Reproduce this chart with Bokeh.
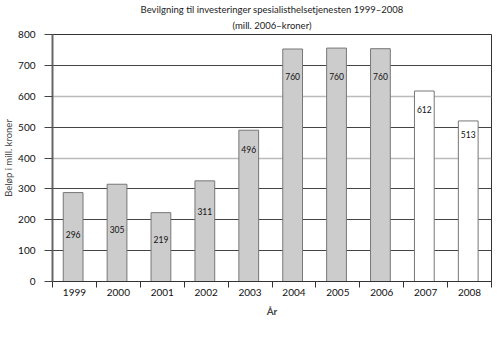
from bokeh.plotting import figure
from bokeh.models import FixedTicker, Range1d, Title, Grid, ColumnDataSource
from bokeh.core.properties import value
from bokeh.embed import file_html
from bokeh.resources import INLINE

years = ["1999", "2000", "2001", "2002", "2003", "2004", "2005", "2006", "2007", "2008"]
bar_heights = [288, 315, 223, 326, 490, 753, 756, 754, 617, 520]
label_text = ["296", "305", "219", "311", "496", "760", "760", "760", "612", "513"]
label_y = [152, 169, 136, 226, 427, 664, 664, 664, 557, 476]
fills = ["#cccccc"] * 8 + ["#ffffff"] * 2
y_ticks = [0, 100, 200, 300, 400, 500, 600, 700, 800]
title_main = "Bevilgning til investeringer spesialisthelsetjenesten 1999\u20132008"
title_sub = "(mill. 2006\u2013kroner)"

FONT = "Lato"

xs = [i + 0.47 for i in range(len(years))]
src = ColumnDataSource(dict(x=xs, top=bar_heights, fill=fills, lab=label_text, ly=label_y))

p = figure(width=492, height=351, output_backend="svg", toolbar_location=None,
           x_range=Range1d(0, len(years)), y_range=Range1d(0, 800),
           min_border_left=44, min_border_right=1, min_border_top=34, min_border_bottom=70)

p.add_layout(Title(text=title_sub, align="center", text_font=FONT,
                   text_font_size="9.5px", text_font_style="normal", text_color="#222",
                   text_line_height=0.9, standoff=7), "above")
p.add_layout(Title(text=title_main, align="center", text_font=FONT,
                   text_font_size="9.5px", text_font_style="normal", text_color="#222",
                   text_line_height=0.9, standoff=0), "above")

p.outline_line_color = "#333333"
p.outline_line_width = 1
p.background_fill_color = "white"

# grids
p.xgrid.visible = False
p.ygrid.ticker = FixedTicker(ticks=[100, 200, 300, 500, 700])
p.ygrid.grid_line_color = "#444444"
p.ygrid.grid_line_width = 1
g2 = Grid(dimension=1, ticker=FixedTicker(ticks=[400, 600]), grid_line_color="#bbbbbb", grid_line_width=1.5)
p.add_layout(g2)

p.vbar(x="x", top="top", width=0.45, bottom=0, fill_color="fill", line_color="#777777",
       line_width=1, source=src)
p.text(x="x", y="ly", text="lab", source=src, text_align="center", text_baseline="middle",
       text_font=value(FONT), text_font_size="8.5px", text_color="#111111")

# x axis
centers = [i + 0.5 for i in range(len(years))]
p.xaxis.ticker = FixedTicker(ticks=centers, minor_ticks=list(range(len(years) + 1)))
p.xaxis.major_label_overrides = {c: y for c, y in zip(centers, years)}
p.xaxis.major_tick_line_color = None
p.xaxis.minor_tick_line_color = "#333333"
p.xaxis.minor_tick_out = 6
p.xaxis.minor_tick_in = 0
p.xaxis.axis_line_color = "#333333"
p.xaxis.major_label_standoff = 1
p.xaxis.major_label_text_font = FONT
p.xaxis.major_label_text_font_size = "10px"
p.xaxis.major_label_text_color = "#111111"
p.xaxis.axis_label = "\u00c5r"
p.xaxis.axis_label_text_font = FONT
p.xaxis.axis_label_text_font_size = "10px"
p.xaxis.axis_label_text_font_style = "bold"
p.xaxis.axis_label_standoff = 6

# y axis
p.yaxis.ticker = FixedTicker(ticks=y_ticks)
p.yaxis.axis_line_color = "#666666"
p.yaxis.axis_line_width = 2
p.yaxis.major_tick_line_color = "#444444"
p.yaxis.major_tick_out = 8
p.yaxis.major_tick_in = 0
p.yaxis.minor_tick_line_color = None
p.yaxis.major_label_standoff = 9
p.yaxis.major_label_text_font = FONT
p.yaxis.major_label_text_font_size = "10px"
p.yaxis.major_label_text_color = "#111111"
p.yaxis.axis_label = "Bel\u00f8p i mill. kroner"
p.yaxis.axis_label_text_font = FONT
p.yaxis.axis_label_text_font_size = "9.5px"
p.yaxis.axis_label_text_font_style = "normal"
p.yaxis.axis_label_standoff = 1

open("out.html", "w").write(file_html(p, INLINE))
